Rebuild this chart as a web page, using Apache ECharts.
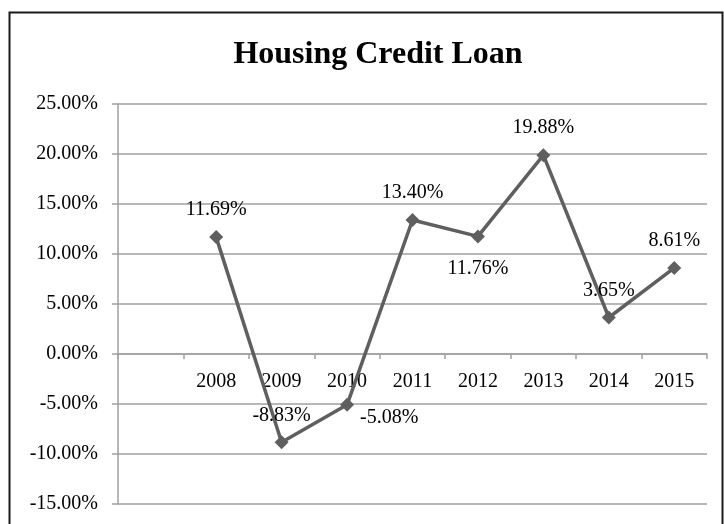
<!DOCTYPE html>
<html>
<head>
<meta charset="utf-8">
<script src="https://cdn.jsdelivr.net/npm/echarts@6/dist/echarts.min.js"></script>
<style>html,body{margin:0;padding:0;background:#fff}#c{width:724px;height:524px}</style>
</head>
<body>
<div id="c"></div>
<script>
var categories = ['', '2008', '2009', '2010', '2011', '2012', '2013', '2014', '2015'];
var values = [null, 11.69, -8.83, -5.08, 13.40, 11.76, 19.88, 3.65, 8.61];
var labelPos = [null, 'top', 'top', 'right', 'top', 'bottom', 'top', 'top', 'top'];
var yTicks = { min: -15, max: 25, interval: 5 };

var FONT = '"Liberation Serif", "Times New Roman", serif';
var GRID = { left: 118, right: 17, top: 104, bottom: 20 };
var gridH = 524 - GRID.top - GRID.bottom;
var zeroOffset = -gridH * (0 - yTicks.min) / (yTicks.max - yTicks.min);

var chart = echarts.init(document.getElementById('c'), null, { renderer: 'canvas' });

var seriesData = values.map(function (v, i) {
  if (v === null) return null;
  var pos = labelPos[i];
  var lab = { position: pos };
  if (pos === 'right') { lab.distance = 6; lab.offset = [0, 13]; }
  if (pos === 'bottom') { lab.distance = 15; }
  return { value: v, label: lab };
});

chart.setOption({
  animation: false,
  backgroundColor: '#fff',
  graphic: [{
    type: 'rect',
    shape: { x: 9.5, y: 12.5, width: 713, height: 530 },
    style: { fill: 'none', stroke: '#1a1a1a', lineWidth: 2 },
    silent: true
  }],
  title: {
    text: 'Housing Credit Loan',
    left: 373,
    top: 34,
    textAlign: 'center',
    textStyle: { fontFamily: FONT, fontSize: 32, fontWeight: 'bold', color: '#000' }
  },
  grid: { left: GRID.left, right: GRID.right, top: GRID.top, bottom: GRID.bottom, containLabel: false, outerBoundsMode: 'none' },
  xAxis: {
    type: 'category',
    data: categories,
    boundaryGap: true,
    position: 'bottom',
    offset: zeroOffset,
    axisLine: { onZero: false, lineStyle: { color: '#a0a0a0', width: 1.5 } },
    axisTick: { show: true, alignWithLabel: false, length: 5, lineStyle: { color: '#a0a0a0', width: 1.5 } },
    axisLabel: { fontFamily: FONT, fontSize: 20, color: '#000', margin: 18 },
    splitLine: { show: false }
  },
  yAxis: {
    type: 'value',
    min: yTicks.min,
    max: yTicks.max,
    interval: yTicks.interval,
    axisLine: { show: true, lineStyle: { color: '#a0a0a0', width: 1.5 } },
    axisTick: { show: true, length: 6, lineStyle: { color: '#a0a0a0', width: 1.5 } },
    axisLabel: {
      fontFamily: FONT, fontSize: 20, color: '#000', margin: 20,
      formatter: function (v) { return v.toFixed(2) + '%'; }
    },
    splitLine: { show: true, lineStyle: { color: '#a0a0a0', width: 1.5 } }
  },
  series: [{
    type: 'line',
    data: seriesData,
    connectNulls: false,
    symbol: 'diamond',
    symbolSize: 14,
    lineStyle: { color: '#5f5f5f', width: 3.5 },
    itemStyle: { color: '#5f5f5f' },
    label: {
      show: true,
      distance: 10,
      fontFamily: FONT,
      fontSize: 20,
      color: '#000',
      formatter: function (p) { return p.value.toFixed(2) + '%'; }
    }
  }]
});
</script>
</body>
</html>
